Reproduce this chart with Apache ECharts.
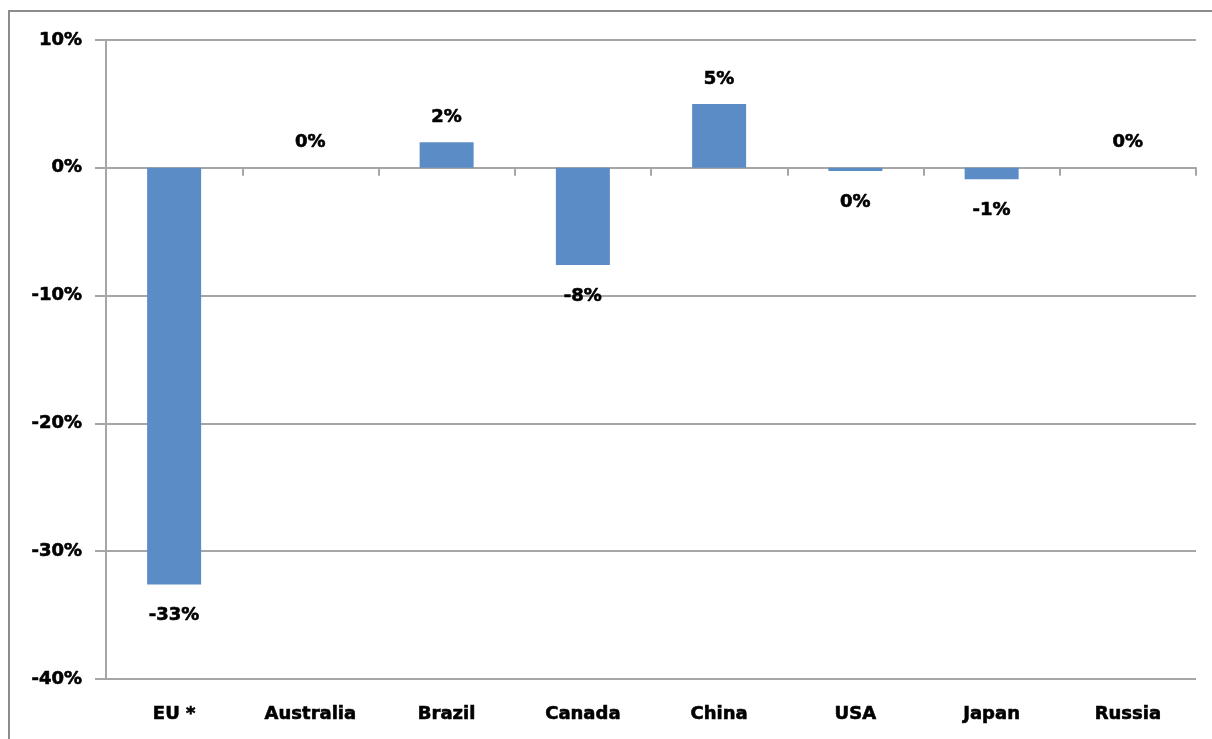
<!DOCTYPE html>
<html>
<head>
<meta charset="utf-8">
<script src="https://cdn.jsdelivr.net/npm/echarts@6/dist/echarts.min.js"></script>
<style>
html,body{margin:0;padding:0;background:#fff;}
#chart{width:1212px;height:739px;}
</style>
</head>
<body>
<div id="chart"></div>
<script>
const categories = ['EU *', 'Australia', 'Brazil', 'Canada', 'China', 'USA', 'Japan', 'Russia'];
const values = [-32.6, 0, 2.0, -7.6, 5.0, -0.25, -0.9, 0];
const yTicks = { min: -40, max: 10, interval: 10 };

const FONT = '"DejaVu Sans", Verdana, sans-serif';
const GRID = '#a6a6a6';
const TXT = { color: '#000', fontFamily: FONT, fontWeight: 'bold', fontSize: 18, textBorderColor: '#000', textBorderWidth: 0.6 };

const chart = echarts.init(document.getElementById('chart'), null, { renderer: 'canvas' });

const barData = values.map(v => ({
  value: v,
  label: { position: v < 0 ? 'bottom' : 'top', distance: v < 0 ? 22 : 16 }
}));

chart.setOption({
  animation: false,
  backgroundColor: '#fff',
  graphic: [{
    type: 'rect',
    shape: { x: 9, y: 11, width: 1220, height: 740 },
    style: { fill: 'none', stroke: '#8c8c8c', lineWidth: 2 },
    silent: true
  }],
  grid: { left: 106, right: 16, top: 40, bottom: 60, containLabel: false },
  xAxis: [{
    type: 'category',
    data: categories,
    position: 'bottom',
    axisLine: { show: true, onZero: true, lineStyle: { color: GRID, width: 2 } },
    axisTick: { show: true, inside: false, length: 8, alignWithLabel: false, lineStyle: { color: GRID, width: 2 } },
    axisLabel: { show: false },
    splitLine: { show: false }
  }, {
    type: 'category',
    data: categories,
    position: 'bottom',
    axisLine: { show: false, onZero: false },
    axisTick: { show: false },
    axisLabel: Object.assign({ show: true, margin: 26 }, TXT),
    splitLine: { show: false }
  }],
  yAxis: {
    type: 'value',
    min: yTicks.min,
    max: yTicks.max,
    interval: yTicks.interval,
    axisLine: { show: true, lineStyle: { color: GRID, width: 2 } },
    axisTick: { show: true, inside: false, length: 11, lineStyle: { color: GRID, width: 2 } },
    axisLabel: Object.assign({ margin: 24, padding: [4, 0, 0, 0], formatter: v => v + '%' }, TXT),
    splitLine: { show: true, lineStyle: { color: GRID, width: 2 } }
  },
  series: [{
    type: 'bar',
    xAxisIndex: 0,
    data: barData,
    barWidth: 54,
    itemStyle: { color: '#5b8cc6' },
    label: Object.assign({
      show: true,
      formatter: p => Math.round(p.value) + '%'
    }, TXT)
  }]
});
</script>
</body>
</html>
